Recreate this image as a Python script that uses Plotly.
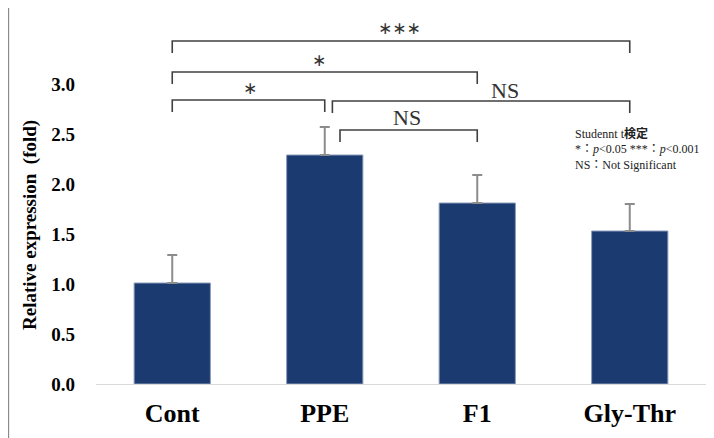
import plotly.graph_objects as go

categories = ["Cont", "PPE", "F1", "Gly-Thr"]
means = [1.01, 2.29, 1.81, 1.53]
errors = [0.28, 0.28, 0.28, 0.27]
y_ticks = [0.0, 0.5, 1.0, 1.5, 2.0, 2.5, 3.0]

# significance brackets: (left pos, right pos, height, label)
br_left = [0.0, 0.0, 0.0, 1.05, 1.10]
br_right = [3.0, 2.0, 1.0, 3.0, 2.0]
br_y = [3.43, 3.12, 2.84, 2.83, 2.54]
br_label = ["∗∗∗", "∗", "∗", "NS", "NS"]
br_label_x = [1.49, 0.96, 0.51, 2.18, 1.54]
br_label_y = [3.56, 3.24, 2.96, 2.94, 2.67]

xpos = list(range(len(categories)))

fig = go.Figure()
fig.add_trace(go.Bar(
    x=xpos, y=means, width=0.5,
    marker=dict(color="#1b3a70", line=dict(color="#8c9bb8", width=1)),
    error_y=dict(type="data", array=errors, symmetric=False, arrayminus=[0]*4,
                 color="#8c8c8c", thickness=2, width=5),
    showlegend=False,
))

drop = 0.12
for l, r, h in zip(br_left, br_right, br_y):
    fig.add_trace(go.Scatter(
        x=[l, l, r, r], y=[h - drop, h, h, h - drop], mode="lines",
        line=dict(color="#404040", width=1.6), showlegend=False, hoverinfo="skip",
        cliponaxis=False,
    ))

for lx, ly, t in zip(br_label_x, br_label_y, br_label):
    if t == "NS":
        f = dict(family="Liberation Serif", size=22, color="#333333")
    else:
        f = dict(family="DejaVu Sans", size=17, color="#333333")
    fig.add_annotation(x=lx, y=ly, text=t, showarrow=False, font=f)

note_lines = ["Studennt t<b>検定</b>",
              "*：<i>p</i><0.05 ***：<i>p</i><0.001",
              "NS：Not Significant"]
for i, line in enumerate(note_lines):
    fig.add_annotation(x=2.63, y=2.51 - i * 0.16, xref="x", yref="y", text=line,
                       showarrow=False, xanchor="left",
                       font=dict(family="Liberation Serif, Noto Sans CJK JP", size=12, color="#222222"))

# y-axis title
fig.add_annotation(x=-0.108, y=0.43, xref="paper", yref="paper",
                   xanchor="center", yanchor="middle",
                   text="<b>Relative expression&nbsp;&nbsp;(fold)</b>", textangle=-90,
                   showarrow=False, font=dict(family="Liberation Serif", size=19, color="#000000"))

# outer frame lines (top and left)
fig.add_shape(type="line", xref="paper", yref="paper", x0=-0.144, x1=1.1, y0=1.019, y1=1.019,
              line=dict(color="#8a8a8a", width=2))
fig.add_shape(type="line", xref="paper", yref="paper", x0=-0.144, x1=-0.144, y0=1.019, y1=-0.3,
              line=dict(color="#8a8a8a", width=2))

fig.update_layout(
    width=706, height=430,
    margin=dict(l=88, r=8, t=6, b=54),
    paper_bgcolor="white", plot_bgcolor="white",
    font=dict(family="Liberation Serif", color="#000000"),
    xaxis=dict(tickvals=xpos, ticktext=[f"<b>{c}</b>" for c in categories],
               range=[-0.5, 3.5], showgrid=False, showline=True, linecolor="#d9d9d9",
               linewidth=1, ticks="", tickfont=dict(size=26, family="Liberation Serif"),
               ticklabelstandoff=6, zeroline=False),
    yaxis=dict(range=[0, 3.7], tickvals=y_ticks, ticktext=[f"<b>{v:.1f}</b>" for v in y_ticks],
               showgrid=False, zeroline=False, showline=False, ticks="",
               tickfont=dict(size=19, family="Liberation Serif"), ticklabelstandoff=20),
    bargap=0.5,
)

fig.write_html("out.html")
